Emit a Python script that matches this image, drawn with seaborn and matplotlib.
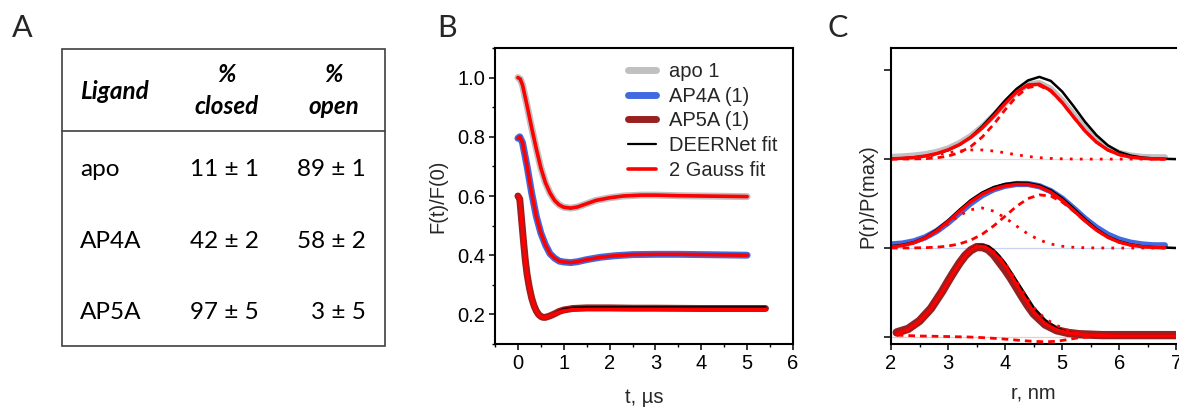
import matplotlib
matplotlib.use("Agg")
import numpy as np
import matplotlib.pyplot as plt
import seaborn as sns
from matplotlib.ticker import MultipleLocator, FormatStrFormatter, NullFormatter

# ---------------- Panel A data ----------------
ligands = ["apo", "AP4A", "AP5A"]
closed_mean = [11, 42, 97]
closed_err = [1, 2, 5]
open_mean = [89, 58, 3]
open_err = [1, 2, 5]

# ---------------- Panel B data (time traces) ----------------
t_apo = [0.0, 0.05, 0.1, 0.2, 0.3, 0.4, 0.5, 0.6, 0.7, 0.8, 0.9, 1.0, 1.15, 1.3, 1.5, 1.7,
         2.0, 2.3, 2.7, 3.0, 3.5, 4.0, 4.5, 5.0]
f_apo = [1.0, 0.995, 0.975, 0.905, 0.83, 0.76, 0.695, 0.645, 0.61, 0.585, 0.57, 0.562, 0.559,
         0.563, 0.574, 0.585, 0.594, 0.600, 0.603, 0.603, 0.601, 0.600, 0.599, 0.598]
t_ap4a = [0.0, 0.04, 0.1, 0.2, 0.3, 0.4, 0.5, 0.6, 0.7, 0.8, 0.9, 1.0, 1.15, 1.3, 1.5, 1.8,
          2.1, 2.5, 3.0, 3.5, 4.0, 4.5, 5.0]
f_ap4a = [0.795, 0.80, 0.78, 0.70, 0.61, 0.532, 0.475, 0.435, 0.405, 0.39, 0.38, 0.377, 0.375,
          0.378, 0.385, 0.393, 0.398, 0.402, 0.403, 0.403, 0.402, 0.401, 0.400]
t_ap5a = [0.0, 0.04, 0.08, 0.12, 0.16, 0.2, 0.25, 0.3, 0.35, 0.4, 0.45, 0.5, 0.55, 0.6, 0.7,
          0.8, 0.9, 1.0, 1.2, 1.5, 2.0, 2.5, 3.0, 4.0, 5.0, 5.4]
f_ap5a = [0.60, 0.59, 0.52, 0.45, 0.385, 0.335, 0.29, 0.255, 0.23, 0.212, 0.2, 0.193, 0.19,
          0.19, 0.195, 0.202, 0.21, 0.215, 0.22, 0.222, 0.222, 0.221, 0.221, 0.22, 0.22, 0.22]
f_ap5a_deernet = [0.60, 0.59, 0.52, 0.45, 0.385, 0.335, 0.29, 0.255, 0.23, 0.212, 0.2, 0.193,
                  0.19, 0.19, 0.195, 0.203, 0.212, 0.218, 0.223, 0.224, 0.224, 0.224, 0.224,
                  0.224, 0.224, 0.224]
f_ap5a_gauss = [0.60, 0.59, 0.52, 0.45, 0.385, 0.335, 0.29, 0.255, 0.23, 0.212, 0.2, 0.193,
                0.19, 0.19, 0.195, 0.201, 0.208, 0.212, 0.216, 0.217, 0.217, 0.217, 0.217,
                0.217, 0.217, 0.217]
f_apo_deernet = f_apo
f_apo_gauss = f_apo
f_ap4a_deernet = f_ap4a
f_ap4a_gauss = f_ap4a

# ---------------- Panel C data (distance distributions) ----------------
r_nm = [2.0, 2.2, 2.4, 2.6, 2.8, 3.0, 3.2, 3.4, 3.6, 3.8, 4.0, 4.2, 4.4, 4.6, 4.8, 5.0,
        5.2, 5.4, 5.6, 5.8, 6.0, 6.2, 6.4, 6.6, 6.8]
r_nm_full = r_nm + [7.0]
r_ap5a = [2.1, 2.3, 2.5, 2.7, 2.9, 3.0, 3.1, 3.2, 3.3, 3.4, 3.5, 3.6, 3.7, 3.8, 3.9, 4.0,
          4.1, 4.2, 4.3, 4.4, 4.5, 4.7, 4.9, 5.1, 5.3, 5.5, 5.7, 5.9, 6.1, 6.3, 6.5, 6.7,
          6.9, 7.0]

apo_data = [0.025, 0.03, 0.04, 0.055, 0.08, 0.12, 0.18, 0.26, 0.365, 0.49, 0.63, 0.755, 0.84,
            0.855, 0.79, 0.66, 0.50, 0.345, 0.215, 0.125, 0.07, 0.04, 0.025, 0.02, 0.02]
apo_deernet = [0.005, 0.01, 0.02, 0.035, 0.06, 0.10, 0.16, 0.25, 0.37, 0.51, 0.66, 0.79, 0.885,
               0.925, 0.88, 0.76, 0.595, 0.42, 0.27, 0.155, 0.08, 0.04, 0.018, 0.008, 0.003, 0.0]
apo_gauss = [0.003, 0.009, 0.018, 0.035, 0.063, 0.105, 0.164, 0.245, 0.352, 0.483, 0.626, 0.754,
             0.835, 0.843, 0.772, 0.637, 0.474, 0.317, 0.191, 0.103, 0.050, 0.022, 0.009,
             0.003, 0.001]
apo_open = [0.000, 0.001, 0.002, 0.005, 0.014, 0.034, 0.073, 0.142, 0.249, 0.392, 0.555, 0.705,
            0.805, 0.827, 0.764, 0.634, 0.473, 0.317, 0.191, 0.103, 0.050, 0.022, 0.009,
            0.003, 0.001]
apo_closed = [0.003, 0.008, 0.016, 0.030, 0.049, 0.071, 0.091, 0.103, 0.103, 0.091, 0.071,
              0.049, 0.030, 0.016, 0.008, 0.003, 0.001, 0.0, 0.0, 0.0, 0.0, 0.0, 0.0, 0.0, 0.0]

ap4a_data = [0.04, 0.05, 0.075, 0.12, 0.19, 0.285, 0.395, 0.505, 0.595, 0.66, 0.70, 0.72, 0.72,
             0.695, 0.64, 0.555, 0.445, 0.33, 0.23, 0.15, 0.095, 0.06, 0.04, 0.03, 0.03]
ap4a_deernet = [0.02, 0.035, 0.065, 0.12, 0.205, 0.31, 0.43, 0.54, 0.625, 0.685, 0.72, 0.735,
                0.73, 0.705, 0.65, 0.56, 0.445, 0.325, 0.215, 0.13, 0.075, 0.04, 0.02, 0.01,
                0.005, 0.0]
ap4a_gauss = [0.011, 0.026, 0.058, 0.112, 0.192, 0.297, 0.412, 0.520, 0.606, 0.664, 0.698,
              0.716, 0.714, 0.688, 0.629, 0.537, 0.423, 0.305, 0.201, 0.120, 0.065, 0.032,
              0.014, 0.006, 0.002]
ap4a_open = [0.000, 0.000, 0.001, 0.004, 0.009, 0.022, 0.046, 0.089, 0.156, 0.249, 0.358,
             0.469, 0.556, 0.598, 0.584, 0.517, 0.415, 0.302, 0.200, 0.120, 0.065, 0.032,
             0.014, 0.006, 0.002]
ap4a_closed = [0.011, 0.026, 0.057, 0.108, 0.183, 0.275, 0.366, 0.431, 0.450, 0.415, 0.340,
               0.247, 0.158, 0.090, 0.045, 0.020, 0.008, 0.003, 0.001, 0.0, 0.0, 0.0, 0.0,
               0.0, 0.0]

ap5a_data = [0.05, 0.09, 0.18, 0.32, 0.515, 0.625, 0.73, 0.83, 0.915, 0.975, 1.01, 1.01, 0.985,
             0.925, 0.84, 0.755, 0.66, 0.555, 0.45, 0.35, 0.26, 0.14, 0.075, 0.045, 0.03,
             0.025, 0.02, 0.02, 0.02, 0.02, 0.02, 0.02, 0.02, 0.02]
ap5a_deernet = [0.037, 0.085, 0.175, 0.318, 0.511, 0.615, 0.726, 0.828, 0.915, 0.98, 1.02,
                1.03, 1.02, 0.975, 0.91, 0.83, 0.73, 0.63, 0.53, 0.43, 0.33, 0.19, 0.10, 0.05,
                0.03, 0.02, 0.015, 0.012, 0.01, 0.01, 0.01, 0.01, 0.01, 0.01]
ap5a_gauss = [0.037, 0.085, 0.175, 0.318, 0.511, 0.615, 0.726, 0.826, 0.912, 0.976, 1.012,
              1.019, 0.994, 0.945, 0.88, 0.80, 0.70, 0.59, 0.48, 0.375, 0.28, 0.15, 0.08,
              0.045, 0.03, 0.02, 0.015, 0.012, 0.01, 0.01, 0.01, 0.01, 0.01, 0.01]
ap5a_open = [0.02, 0.015, 0.01, 0.008, 0.005, 0.004, 0.002, 0.001, 0.0, -0.002, -0.005, -0.008,
             -0.012, -0.016, -0.02, -0.025, -0.03, -0.036, -0.042, -0.046, -0.05, -0.055,
             -0.05, -0.03, -0.008, 0.0]
ap5a_closed = [0.017, 0.07, 0.165, 0.31, 0.506, 0.611, 0.724, 0.825, 0.912, 0.978, 1.017,
               1.027, 1.006, 0.961, 0.90, 0.825, 0.73, 0.626, 0.522, 0.421, 0.33, 0.205, 0.13,
               0.075, 0.038, 0.02]

# ---------------- styling ----------------
W, H = 1179, 408
sns.set_theme(style="ticks")
plt.rcParams["font.family"] = ["Liberation Sans", "DejaVu Sans"]
plt.rcParams.update({
    "xtick.direction": "out", "ytick.direction": "out",
    "xtick.major.size": 4.0, "ytick.major.size": 4.0,
    "xtick.minor.size": 2.2, "ytick.minor.size": 2.2,
    "xtick.major.width": 1.1, "ytick.major.width": 1.1,
    "xtick.minor.width": 1.0, "ytick.minor.width": 1.0,
    "axes.linewidth": 1.5, "axes.edgecolor": "black",
    "xtick.color": "black", "ytick.color": "black",
})

GRAY = "#c0c0c0"
BLUE = "#4169e1"
DRED = "#992020"
RED = "#ff0000"
CAL = ["Lato", "DejaVu Sans"]
FS = 14.5

fig = plt.figure(figsize=(W / 100, H / 100), dpi=100)


def fx(px):
    return px / W


def fy(py):
    return 1 - py / H


def line(ax, x, y, **kw):
    sns.lineplot(x=x, y=y, ax=ax, estimator=None, sort=False, legend=False, **kw)
    return ax.lines[-1]


# ---------------- Panel A: table ----------------
axA = fig.add_axes([0, 0, 400 / W, 1])
axA.set_xlim(0, 400)
axA.set_ylim(H, 0)
axA.axis("off")
axA.add_patch(plt.Rectangle((62, 49), 323, 297, fill=False, edgecolor="#404040", lw=1.2))
axA.plot([62, 385], [131, 131], color="#404040", lw=1.2)
hdr = dict(family=CAL, fontsize=17.5, fontweight="bold", style="italic", color="black")
axA.text(80, 99, "Ligand", ha="left", va="baseline", **hdr)
axA.text(226.7, 81.5, "%", ha="center", va="baseline", **hdr)
axA.text(226.7, 114.3, "closed", ha="center", va="baseline", **hdr)
axA.text(333.5, 81.5, "%", ha="center", va="baseline", **hdr)
axA.text(333.5, 114.3, "open", ha="center", va="baseline", **hdr)
body = dict(family=CAL, fontsize=17.5, color="black")
row_y = [175.7, 247.7, 319.3]
for lig, cm, ce, om, oe, yy in zip(ligands, closed_mean, closed_err, open_mean, open_err, row_y):
    axA.text(80, yy, lig, ha="left", va="baseline", **body)
    axA.text(190, yy, f"{cm} ± {ce}", ha="left", va="baseline", **body)
    axA.text(365.7, yy, f"{om} ± {oe}", ha="right", va="baseline", **body)

# panel letters
for lab, px in [("A", 12), ("B", 437), ("C", 828)]:
    fig.text(fx(px), fy(37), lab, family=CAL, fontsize=22, ha="left", va="baseline")

# ---------------- Panel B ----------------
axB = fig.add_axes([fx(495), fy(344), (793 - 495) / W, (344 - 48) / H])
h_apo = line(axB, t_apo, f_apo, color=GRAY, lw=5.0)
h_ap4a = line(axB, t_ap4a, f_ap4a, color=BLUE, lw=5.0)
h_ap5a = line(axB, t_ap5a, f_ap5a, color=DRED, lw=5.0)
h_deer = line(axB, t_apo, f_apo_deernet, color="black", lw=1.6)
line(axB, t_ap4a, f_ap4a_deernet, color="black", lw=1.6)
line(axB, t_ap5a, f_ap5a_deernet, color="black", lw=1.6)
h_gauss = line(axB, t_apo, f_apo_gauss, color=RED, lw=2.6)
line(axB, t_ap4a, f_ap4a_gauss, color=RED, lw=2.6)
line(axB, t_ap5a, f_ap5a_gauss, color=RED, lw=2.6)
axB.set_xlim(-0.5, 6.0)
axB.set_ylim(0.1, 1.1)
axB.xaxis.set_major_locator(MultipleLocator(1))
axB.xaxis.set_minor_locator(MultipleLocator(0.5))
axB.yaxis.set_minor_locator(MultipleLocator(0.1))
axB.set_yticks([0.2, 0.4, 0.6, 0.8, 1.0])
axB.yaxis.set_major_formatter(FormatStrFormatter("%.1f"))
axB.tick_params(labelsize=FS, pad=3)
axB.set_xlabel("t, µs", fontsize=FS, labelpad=11)
axB.set_ylabel("F(t)/F(0)", fontsize=FS, labelpad=7)
axB.legend(handles=[h_apo, h_ap4a, h_ap5a, h_deer, h_gauss],
           labels=["apo 1", "AP4A (1)", "AP5A (1)", "DEERNet fit", "2 Gauss fit"],
           loc="upper left", bbox_to_anchor=(fx(628), fy(62)),
           bbox_transform=fig.transFigure, frameon=False, fontsize=FS,
           handlelength=1.4, handletextpad=0.65, labelspacing=0.28,
           borderpad=0, borderaxespad=0)

# ---------------- Panel C ----------------
axC = fig.add_axes([fx(891), fy(344), (1176.3 - 891) / W, (344 - 48) / H])
OFF_APO, OFF_AP4A, OFF_AP5A = 2.0, 1.0, 0.0
axC.axhline(OFF_APO, color="#dddddd", lw=0.9, zorder=0.5)
axC.axhline(OFF_AP4A, color="#c8d4f2", lw=0.9, zorder=0.5)
axC.axhline(OFF_AP5A, color="#f5c8c8", lw=0.9, zorder=0.5)

DASH = (0, (2.4, 1.8))
DOT = (0, (1.0, 2.6))


def stack(r, vals, off):
    return r[:len(vals)], np.asarray(vals) + off


for full, dat, col, lwd, deer, gau, op, cl, off in [
    (r_nm_full, apo_data, GRAY, 4.5, apo_deernet, apo_gauss, apo_open, apo_closed, OFF_APO),
    (r_nm_full, ap4a_data, BLUE, 4.5, ap4a_deernet, ap4a_gauss, ap4a_open, ap4a_closed, OFF_AP4A),
    (r_ap5a, ap5a_data, DRED, 6.0, ap5a_deernet, ap5a_gauss, ap5a_open, ap5a_closed, OFF_AP5A),
]:
    line(axC, *stack(full, dat, off), color=col, lw=lwd)
    line(axC, *stack(full, deer, off), color="black", lw=1.8)
    line(axC, *stack(full, gau, off), color=RED, lw=2.4)
    line(axC, *stack(full, op, off), color=RED, lw=2.0, linestyle=DASH)
    line(axC, *stack(full, cl, off), color=RED, lw=2.0, linestyle=DOT)

axC.set_xlim(2, 7)
axC.set_ylim(-0.08, 3.25)
axC.xaxis.set_major_locator(MultipleLocator(1))
axC.xaxis.set_minor_locator(MultipleLocator(0.5))
axC.set_yticks([0, 1, 2, 3])
axC.yaxis.set_major_formatter(NullFormatter())
axC.spines["right"].set_visible(False)
axC.tick_params(labelsize=FS, pad=3)
axC.tick_params(axis="y", length=5)
axC.set_xlabel("r, nm", fontsize=FS, labelpad=8)
axC.set_ylabel("P(r)/P(max)", fontsize=FS, labelpad=2)

fig.savefig("out.png", dpi=100)
